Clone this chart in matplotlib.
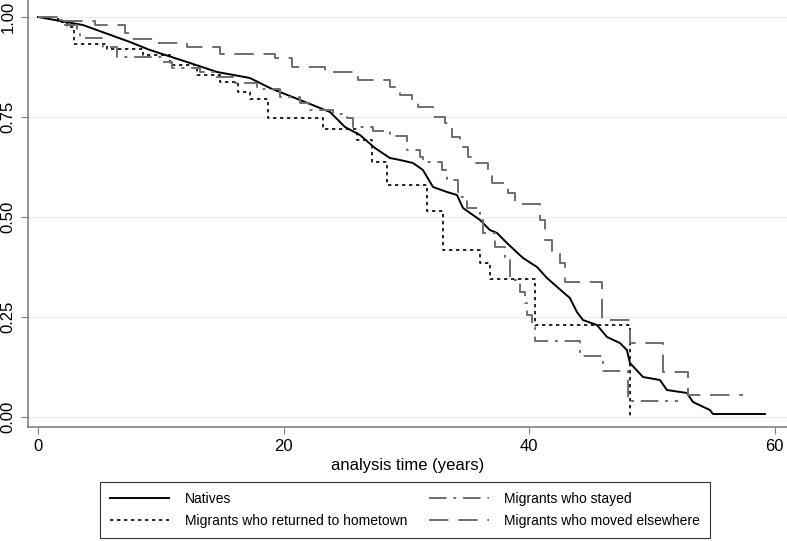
import matplotlib
matplotlib.use("Agg")
import matplotlib.pyplot as plt

plt.rcParams['font.family'] = ['Liberation Sans', 'DejaVu Sans']

# Kaplan-Meier survival estimates
natives_t = [0, 3.66, 7.49, 9.12, 12.38, 14.58, 17.26, 18.89, 21.34, 23.78, 25.0, 26.22,
             27.44, 28.66, 29.48, 30.54, 31.35, 32.17, 33.31, 34.12, 34.61, 36.0, 36.8,
             37.38, 38.19, 39.5, 40.64, 41.45, 42.75, 43.32, 43.89, 44.38, 45.52, 46.34,
             47.39, 47.96, 48.21, 49.27, 50.65, 51.22, 52.85, 53.34, 54.72, 54.97, 59.2]
natives_s = [1.0, 0.98, 0.9375, 0.9175, 0.885, 0.8625, 0.8475, 0.8225, 0.7925, 0.7625,
             0.725, 0.705, 0.6725, 0.6475, 0.6425, 0.635, 0.6175, 0.575, 0.5625, 0.555,
             0.5225, 0.4925, 0.4675, 0.46, 0.435, 0.3975, 0.375, 0.3475, 0.3125, 0.2975,
             0.2625, 0.2425, 0.23, 0.2, 0.185, 0.1675, 0.135, 0.1, 0.0925, 0.0675, 0.06,
             0.0375, 0.0175, 0.0075, 0.0075]

returned_t = [0, 1.63, 2.36, 2.93, 5.62, 8.55, 10.75, 12.95, 14.82, 16.29, 17.26, 18.73,
              23.2, 26.0, 27.2, 28.4, 31.7, 33.0, 36.0, 36.8, 40.5, 48.2]
returned_s = [1.0, 0.9875, 0.975, 0.9325, 0.92, 0.905, 0.88, 0.855, 0.8375, 0.8125, 0.795,
              0.7475, 0.72, 0.6925, 0.6375, 0.58, 0.515, 0.4175, 0.385, 0.345, 0.23, 0.0]

stayed_t = [0, 1.38, 2.20, 3.18, 3.42, 5.29, 6.43, 10.18, 10.91, 13.19, 14.58, 15.88, 17.83,
            19.71, 21.34, 22.15, 24.02, 25.16, 25.65, 27.28, 28.66, 30.05, 31.11, 31.35,
            32.9, 33.31, 34.2, 34.36, 34.93, 36.0, 36.24, 37.21, 38.03, 38.44, 39.25, 39.66,
            39.82, 40.23, 40.47, 44.14, 46.01, 48.05, 52.12]
stayed_s = [1.0, 0.9925, 0.98, 0.9625, 0.9475, 0.925, 0.9, 0.8875, 0.8725, 0.8625, 0.85,
            0.835, 0.82, 0.8, 0.785, 0.7675, 0.7575, 0.7475, 0.725, 0.715, 0.7025, 0.6675,
            0.65, 0.6375, 0.6175, 0.5925, 0.5625, 0.55, 0.5225, 0.4925, 0.46, 0.425, 0.3925,
            0.3425, 0.3125, 0.285, 0.255, 0.225, 0.19, 0.1525, 0.115, 0.04, 0.04]

moved_t = [0, 1.55, 4.64, 7.08, 7.49, 9.53, 12.13, 14.82, 19.30, 20.68, 23.37, 26.06, 28.66,
           29.48, 30.46, 30.94, 32.17, 33.14, 33.71, 34.36, 35.02, 35.34, 36.64, 36.97, 38.27,
           38.84, 40.88, 41.29, 41.86, 42.51, 42.92, 45.93, 48.21, 50.90, 52.93, 57.41]
moved_s = [1.0, 0.99, 0.98, 0.96, 0.945, 0.935, 0.925, 0.9075, 0.8975, 0.875, 0.8625, 0.8425,
           0.825, 0.805, 0.7925, 0.775, 0.75, 0.735, 0.70, 0.675, 0.65, 0.635, 0.6125, 0.585,
           0.56, 0.5325, 0.4925, 0.4425, 0.4125, 0.385, 0.3375, 0.2425, 0.185, 0.1125, 0.055,
           0.055]

labels = ["Natives", "Migrants who returned to hometown",
          "Migrants who stayed", "Migrants who moved elsewhere"]
xticks = [0, 20, 40, 60]
yticks = [0.0, 0.25, 0.5, 0.75, 1.0]
ytick_labels = ["0.00", "0.25", "0.50", "0.75", "1.00"]

fig = plt.figure(figsize=(7.87, 5.41), dpi=100)
ax = fig.add_axes([28 / 787, 114 / 541, 759 / 787, 427 / 541])

gray = "#6e6e6e"
l1, = ax.plot(natives_t, natives_s, color="black", lw=1.4)
l2, = ax.plot(returned_t, returned_s, color="black", lw=1.2, ls=(0, (2, 2.2)),
              drawstyle="steps-post")
l3, = ax.plot(stayed_t, stayed_s, color=gray, lw=1.4, ls=(0, (9, 3.5, 1.5, 3.5)),
              drawstyle="steps-post")
l4, = ax.plot(moved_t, moved_s, color=gray, lw=1.4, ls=(0, (10, 5)),
              drawstyle="steps-post")

ax.set_xlim(-0.814, 61.0)
ax.set_ylim(-0.025, 1.0425)
ax.set_xticks(xticks)
ax.set_yticks(yticks)
ax.set_yticklabels(ytick_labels, rotation=90, va="center")
ax.tick_params(axis="both", labelsize=12, length=5, color="#808080", labelcolor="black")
ax.tick_params(axis="y", pad=4)
ax.grid(axis="y", color="#e8eff0", lw=1.0)
ax.set_axisbelow(True)
for side in ["top", "right"]:
    ax.spines[side].set_visible(False)
for side in ["left", "bottom"]:
    ax.spines[side].set_color("#808080")
    ax.spines[side].set_linewidth(1.2)
ax.set_xlabel("analysis time (years)", fontsize=12, labelpad=3)

leg = fig.legend([l1, l2, l3, l4], labels, ncol=2, fontsize=10, loc="center",
                 bbox_to_anchor=(100 / 787, 4 / 541, 610 / 787, 54 / 541), mode="expand",
                 handlelength=4.3, handletextpad=1.1, frameon=True, fancybox=False,
                 borderaxespad=0, borderpad=0.7, labelspacing=0.6)
leg.get_frame().set_edgecolor("black")
leg.get_frame().set_linewidth(0.8)

fig.savefig("out.png", dpi=100)
